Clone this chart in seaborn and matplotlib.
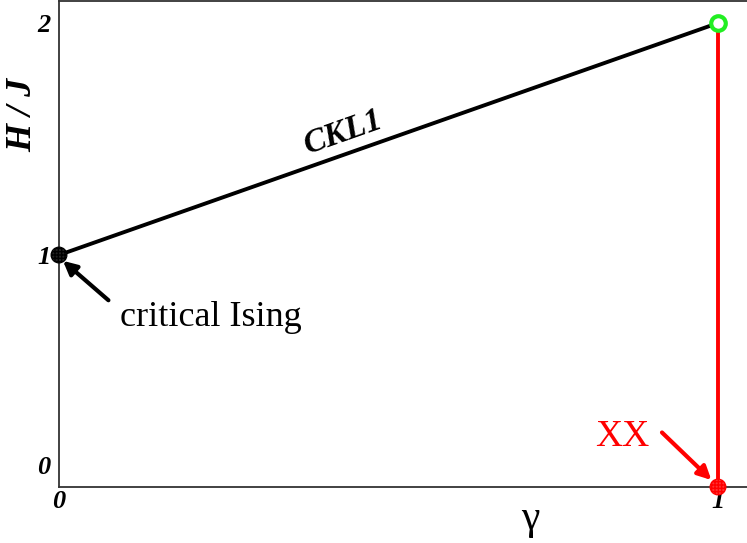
import matplotlib
matplotlib.use("Agg")
import matplotlib.pyplot as plt
import matplotlib.transforms as mtransforms
import numpy as np
import pandas as pd
import seaborn as sns

# phase diagram data (gamma, H/J)
gamma_ckl = [0.0, 1.0]
h_ckl = [1.0, 2.0]
gamma_xx = [1.0, 1.0]
h_xx = [0.0, 2.0]
ising_pt = (0.0, 1.0)
xx_pt = (1.0, 0.0)
top_pt = (1.0, 2.0)
xticks = [0, 1]
yticks = [0, 1, 2]

sns.set_style("white")
plt.rcParams["font.family"] = ["Liberation Serif", "DejaVu Serif"]
plt.rcParams["text.color"] = "black"
plt.rcParams["axes.labelcolor"] = "black"
plt.rcParams["xtick.color"] = "black"
plt.rcParams["ytick.color"] = "black"

fig = plt.figure(figsize=(7.47, 5.43), dpi=100)
ax = fig.add_axes([59 / 747, 56 / 543, 688 / 747, 486 / 543])

df_ckl = pd.DataFrame({"gamma": gamma_ckl, "h": h_ckl})
df_xx = pd.DataFrame({"gamma": gamma_xx, "h": h_xx})
sns.lineplot(data=df_ckl, x="gamma", y="h", ax=ax, color="black", lw=2.8,
             estimator=None, sort=False, zorder=3)
sns.lineplot(data=df_xx, x="gamma", y="h", ax=ax, color="red", lw=2.8,
             estimator=None, sort=False, zorder=3)

ax.scatter([ising_pt[0]], [ising_pt[1]], s=130, facecolor="#222222",
           edgecolor="black", hatch="+++++", lw=0.8, zorder=5, clip_on=False)
ax.scatter([xx_pt[0]], [xx_pt[1]], s=130, facecolor="#ff3333",
           edgecolor="red", hatch="+++++", lw=0.8, zorder=5, clip_on=False)
ax.scatter([top_pt[0]], [top_pt[1]], s=110, facecolor="white",
           edgecolor="#22ee22", lw=3.0, zorder=5, clip_on=False)

ax.set_xlim(0, 688 / 659)
ax.set_ylim(0, 485 / 463 * 2)

ax.set_xticks(xticks)
ax.set_yticks(yticks)
ax.set_xticklabels([str(v) for v in xticks])
ax.set_yticklabels([str(v) for v in yticks])
ax.tick_params(direction="in", length=9, width=0.9, labelsize=19, pad=2)
ax.tick_params(axis="y", pad=6)
ax.tick_params(axis="both", color="#444444")
for lab in ax.get_xticklabels() + ax.get_yticklabels():
    lab.set_fontweight("bold")
    lab.set_fontstyle("italic")

# nudge the zero label on y up as in the original
ylab0 = ax.yaxis.get_major_ticks()[0].label1
ylab0.set_transform(ylab0.get_transform() +
                    mtransforms.ScaledTranslation(0, 22 / 100, fig.dpi_scale_trans))

for side in ["left", "top", "bottom"]:
    ax.spines[side].set_color("#333333")
    ax.spines[side].set_linewidth(1.3)
ax.spines["right"].set_visible(False)

ax.set_xlabel("γ", fontsize=30)
ax.xaxis.set_label_coords((530 - 59) / 688, -0.025)
ax.xaxis.label.set_va("top")
ax.set_ylabel("H / J", fontsize=26, fontweight="bold", fontstyle="italic")
ax.yaxis.set_label_coords(-0.053, (487 - 115) / 486)
ax.yaxis.label.set_va("center")

ax.text(0.431, 1.53, "CKL1", rotation=19.5, fontsize=24, fontweight="bold",
        fontstyle="italic", ha="center", va="center")

ax.text(0.093, 0.73, "critical Ising", fontsize=26, ha="left", va="center")
ax.annotate("", xy=(0.006, 0.975), xytext=(0.075, 0.805),
            arrowprops=dict(arrowstyle="-|>", color="black", lw=3,
                            mutation_scale=20, shrinkA=0, shrinkB=0))
ax.text(0.854, 0.215, "XX", fontsize=27, color="red", ha="center", va="center")
ax.annotate("", xy=(0.99, 0.03), xytext=(0.915, 0.235),
            arrowprops=dict(arrowstyle="-|>", color="red", lw=3,
                            mutation_scale=20, shrinkA=0, shrinkB=0))

fig.savefig("out.png", dpi=100)
